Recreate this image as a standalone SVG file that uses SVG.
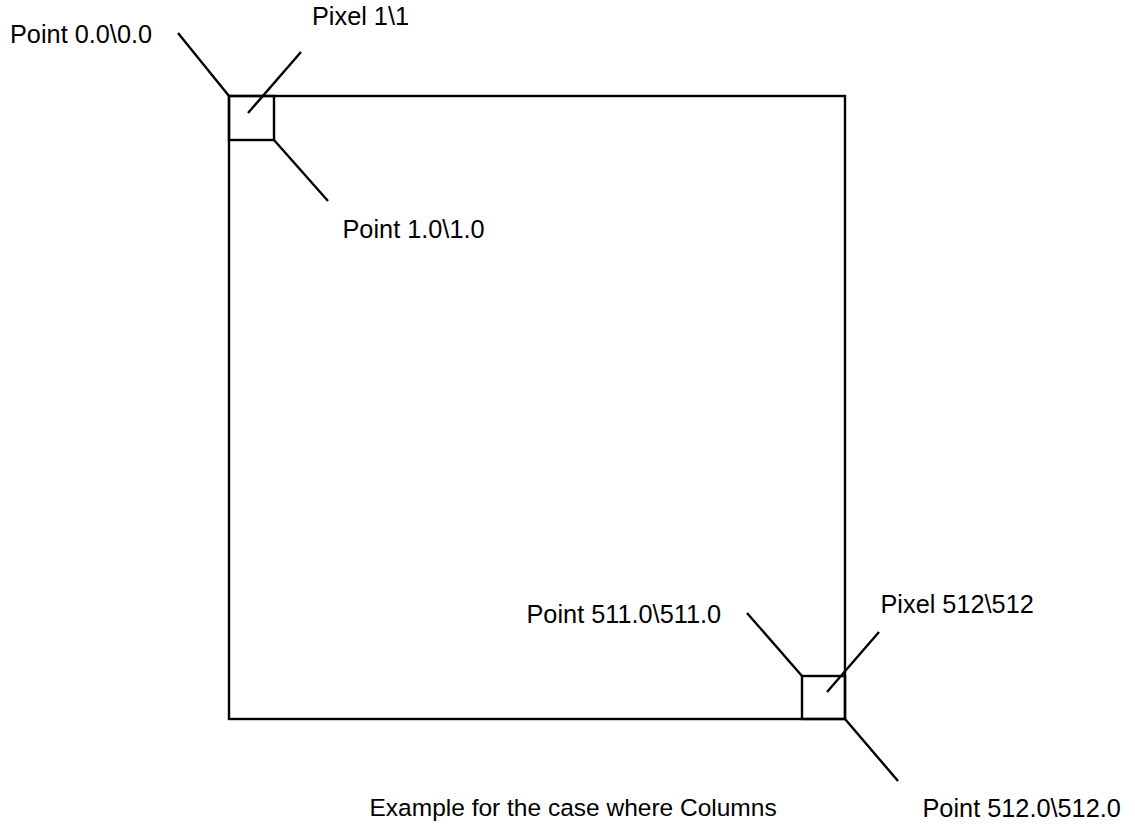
<svg xmlns="http://www.w3.org/2000/svg" width="1135" height="824" viewBox="0 0 1135 824">
<style>
.ln{stroke:#000;stroke-width:2.4;fill:none;stroke-linecap:butt}
.tx{font-family:"Liberation Sans",Arial,sans-serif;font-size:25.3px;fill:#000}
.cap{font-size:24.5px}
</style>
<rect width="1135" height="824" fill="#fff"/>
<g id="frame">
<rect class="ln" x="229" y="96" width="616" height="623"/>
</g>
<g id="pixel-first">
<rect class="ln" x="229" y="96" width="45" height="44"/>
</g>
<g id="pixel-last">
<rect class="ln" x="802" y="676" width="43" height="43"/>
</g>
<g id="connectors">
<line class="ln" x1="178" y1="33" x2="229" y2="96"/>
<line class="ln" x1="301" y1="52" x2="248" y2="113"/>
<line class="ln" x1="274" y1="140" x2="328" y2="201"/>
<line class="ln" x1="747" y1="613" x2="802" y2="676"/>
<line class="ln" x1="879" y1="632" x2="827" y2="692"/>
<line class="ln" x1="845" y1="719" x2="898" y2="781"/>
</g>
<g id="labels">
<text class="tx" x="10" y="42.5">Point 0.0\0.0</text>
<text class="tx" x="312" y="25">Pixel 1\1</text>
<text class="tx" x="342.5" y="237.5">Point 1.0\1.0</text>
<text class="tx" x="526.5" y="622.5">Point 511.0\511.0</text>
<text class="tx" x="880.5" y="612.5">Pixel 512\512</text>
<text class="tx cap" x="369.5" y="816">Example for the case where Columns</text>
<text class="tx" x="922.5" y="816.5">Point 512.0\512.0</text>
</g>
</svg>
